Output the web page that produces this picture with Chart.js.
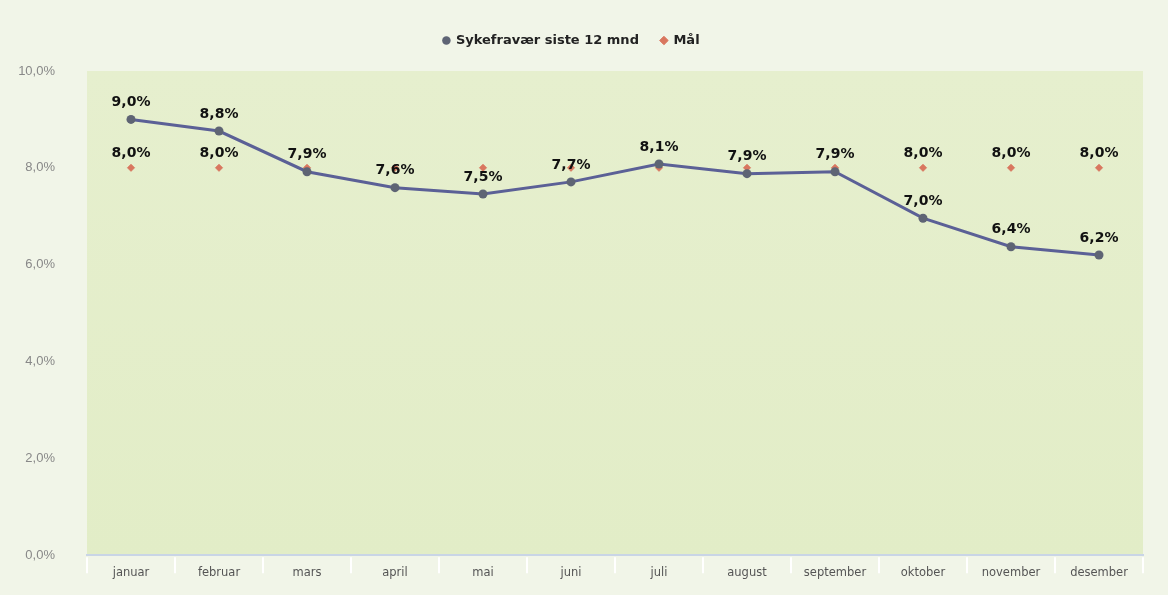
<!DOCTYPE html>
<html>
<head>
<meta charset="utf-8">
<script src="https://cdn.jsdelivr.net/npm/chart.js@4.4.1/dist/chart.umd.min.js"></script>
<style>
  html, body { margin: 0; padding: 0; background: #f1f5e8; }
  #wrap { width: 1168px; height: 595px; }
</style>
</head>
<body>
<div id="wrap"><canvas id="chart" width="1168" height="595"></canvas></div>
<script>
const maaneder = ['januar', 'februar', 'mars', 'april', 'mai', 'juni', 'juli', 'august', 'september', 'oktober', 'november', 'desember'];
const sykefravaer = [9.0, 8.76, 7.92, 7.59, 7.46, 7.71, 8.08, 7.88, 7.92, 6.96, 6.37, 6.2];
const maal = [8.0, 8.0, 8.0, 8.0, 8.0, 8.0, 8.0, 8.0, 8.0, 8.0, 8.0, 8.0];
const yTicks = [0, 2, 4, 6, 8, 10];

function pct(v) {
  return v.toFixed(1).replace('.', ',') + '%';
}

// bakgrunn i plottområdet
const plotBg = {
  id: 'plotBg',
  beforeDraw(chart) {
    const { ctx, chartArea: a } = chart;
    ctx.save();
    const g = ctx.createLinearGradient(0, a.top, 0, a.bottom);
    g.addColorStop(0, '#e6efce');
    g.addColorStop(1, '#e2edc7');
    ctx.fillStyle = g;
    ctx.fillRect(a.left, a.top, a.right - a.left, a.bottom - a.top);
    ctx.restore();
  }
};

// skillelinjer mellom månedene under aksen
const skillelinjer = {
  id: 'skillelinjer',
  afterDraw(chart) {
    const { ctx, chartArea: a } = chart;
    const x = chart.scales.x;
    const n = maaneder.length;
    const steg = x.getPixelForTick(1) - x.getPixelForTick(0);
    ctx.save();
    ctx.strokeStyle = '#ffffff';
    ctx.lineWidth = 2;
    for (let i = 0; i <= n; i++) {
      const px = i < n ? x.getPixelForTick(i) - steg / 2 : x.getPixelForTick(n - 1) + steg / 2;
      ctx.beginPath();
      ctx.moveTo(px, a.bottom + 2);
      ctx.lineTo(px, a.bottom + 18);
      ctx.stroke();
    }
    ctx.restore();
  }
};

// ekstra luft under legenden
const legendLuft = {
  id: 'legendLuft',
  beforeInit(chart) {
    const fit = chart.legend.fit;
    chart.legend.fit = function () {
      fit.bind(chart.legend)();
      this.height += 14;
    };
  }
};

// verdietiketter over punktene
const verdiEtiketter = {
  id: 'verdiEtiketter',
  afterDatasetsDraw(chart) {
    const { ctx } = chart;
    ctx.save();
    ctx.font = 'bold 14px "DejaVu Sans"';
    ctx.fillStyle = '#111';
    ctx.textAlign = 'center';
    ctx.textBaseline = 'bottom';
    chart.getDatasetMeta(0).data.forEach((pt, i) => {
      ctx.fillText(pct(sykefravaer[i]), pt.x, pt.y - 10);
    });
    chart.getDatasetMeta(1).data.forEach((pt, i) => {
      if (Math.abs(sykefravaer[i] - maal[i]) < 0.6) return;
      ctx.fillText(pct(maal[i]), pt.x, pt.y - 7);
    });
    ctx.restore();
  }
};

new Chart(document.getElementById('chart'), {
  type: 'line',
  data: {
    labels: maaneder,
    datasets: [
      {
        label: 'Sykefravær siste 12 mnd',
        data: sykefravaer,
        borderColor: '#5b6096',
        backgroundColor: '#5e6474',
        borderWidth: 3,
        pointRadius: 4.5,
        pointBorderWidth: 0,
        pointStyle: 'circle',
        tension: 0
      },
      {
        label: 'Mål',
        data: maal,
        showLine: false,
        borderColor: '#d9765e',
        backgroundColor: '#d9765e',
        pointStyle: 'rectRot',
        pointRadius: 3.5,
        pointBorderWidth: 1
      }
    ]
  },
  options: {
    responsive: false,
    animation: false,
    layout: { padding: { left: 0, right: 25, top: 12, bottom: -5 } },
    plugins: {
      legend: {
        position: 'top',
        labels: {
          usePointStyle: true,
          boxWidth: 6,
          boxHeight: 6,
          padding: 22,
          color: '#222',
          font: { family: '"DejaVu Sans"', size: 13, weight: 'bold' }
        }
      },
      tooltip: { enabled: false }
    },
    scales: {
      x: {
        type: 'category',
        offset: true,
        grid: { display: false, drawTicks: false },
        border: { display: true, color: '#c9d5e6', width: 2 },
        afterFit: scale => { scale.height = 36; },
        ticks: {
          color: '#555',
          padding: 11,
          font: { family: '"DejaVu Sans"', size: 11.5 }
        }
      },
      y: {
        type: 'linear',
        min: 0,
        max: 10,
        afterBuildTicks: axis => {
          axis.ticks = yTicks.map(v => ({ value: v }));
        },
        afterFit: scale => { scale.width = 87; },
        grid: { display: false, drawTicks: false },
        border: { display: false },
        ticks: {
          color: '#888',
          padding: 32,
          font: { family: '"Liberation Sans"', size: 13 },
          callback: v => pct(v)
        }
      }
    }
  },
  plugins: [plotBg, skillelinjer, legendLuft, verdiEtiketter]
});
</script>
</body>
</html>
